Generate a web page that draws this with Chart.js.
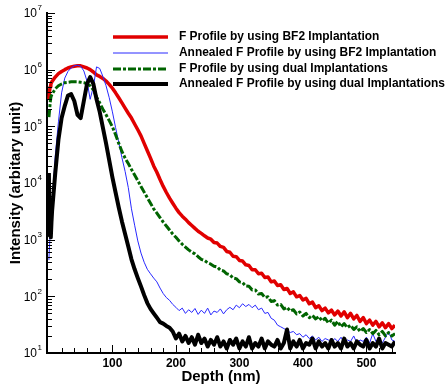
<!DOCTYPE html>
<html>
<head>
<meta charset="utf-8">
<title>F depth profiles</title>
<script src="https://cdn.jsdelivr.net/npm/chart.js@4.4.1/dist/chart.umd.min.js"></script>
<style>
    html, body { margin: 0; padding: 0; background: #fff; }
    canvas { display: block; }
</style>
</head>
<body>
<canvas id="profile-chart" width="447" height="389"></canvas>
<script>
// Depth (nm) shared by every profile
const depth = [
    0, 1, 2, 3, 4,
    5, 10, 15, 20, 25, 30, 35, 40, 45, 50,
    55, 60, 65, 70, 75, 80, 85, 90, 95, 100,
    105, 110, 115, 120, 125, 130, 135, 140, 145, 150,
    155, 160, 165, 170, 175, 180, 185, 190, 195, 200,
    205, 210, 215, 220, 225, 230, 235, 240, 245, 250,
    255, 260, 265, 270, 275, 280, 285, 290, 295, 300,
    305, 310, 315, 320, 325, 330, 335, 340, 345, 350,
    355, 360, 365, 370, 375, 380, 385, 390, 395, 400,
    405, 410, 415, 420, 425, 430, 435, 440, 445, 450,
    455, 460, 465, 470, 475, 480, 485, 490, 495, 500,
    505, 510, 515, 520, 525, 530, 535, 540, 545
];

// F Profile by using BF2 Implantation
const bf2Profile = [
    2.9e5, 4.2e5, 5.0e5, 5.5e5, 5.9e5,
    6.2e5, 7.4e5, 8.5e5, 9.3e5, 1.0e6, 1.07e6, 1.12e6, 1.15e6, 1.17e6, 1.17e6,
    1.12e6, 1.07e6, 1.0e6, 9.1e5, 8.1e5, 7.6e5, 7.0e5, 6.3e5, 5.5e5, 4.7e5,
    3.9e5, 3.2e5, 2.6e5, 2.1e5, 1.7e5, 1.4e5, 1.1e5, 8.7e4, 6.8e4, 5.0e4,
    3.7e4, 2.75e4, 2.0e4, 1.55e4, 1.15e4, 8.7e3, 6.8e3, 5.4e3, 4.4e3, 3.6e3,
    3.0e3, 2.6e3, 2.3e3, 2.0e3, 1.78e3, 1.58e3, 1.41e3, 1.29e3, 1.17e3, 1.07e3,
    1020, 890, 870, 760, 730, 620, 600, 510, 500, 430,
    420, 360, 350, 295, 295, 250, 255, 215, 220, 180,
    186, 155, 160, 132, 138, 112, 120, 98, 103, 86,
    92, 74, 79, 63, 68, 56, 62, 51, 57, 47,
    55, 45, 53, 42, 50, 40, 46, 36, 42, 33,
    38, 31, 36, 29, 34, 28, 33, 27, 31
];

// Annealed F Profile by using BF2 Implantation
const bf2Annealed = [
    440, 800, 1300, 2000, 3000,
    4.2e3, 3.0e4, 1.2e5, 3.9e5, 7.1e5, 9.3e5, 1.07e6, 1.17e6, 1.2e6, 1.15e6,
    9.5e5, 6.3e5, 3.0e5, 5.0e5, 1.12e6, 1.05e6, 7.6e5, 5.2e5, 3.2e5, 1.8e5,
    9.5e4, 5.2e4, 2.8e4, 1.6e4, 8.3e3, 3.5e3, 1.8e3, 950, 580, 400,
    300, 250, 210, 180, 140, 112, 95, 85, 72, 64,
    56, 62, 50, 58, 52, 61, 48, 57, 50, 62,
    47, 55, 52, 60, 49, 58, 64, 58, 70, 63,
    74, 66, 72, 63, 70, 58, 62, 50, 52, 41,
    38, 31, 29, 27, 25, 23, 24, 21, 22, 19,
    21, 18, 20, 17, 19, 16, 18, 17, 15, 18,
    16, 19, 15, 17, 16, 20, 15, 17, 16, 19,
    15, 22, 16, 18, 15, 19, 24, 17, 16
];

// F Profile by using dual Implantations
const dualProfile = [
    1.45e5, 1.9e5, 2.6e5, 3.2e5, 3.5e5,
    3.7e5, 4.6e5, 5.2e5, 5.6e5, 5.9e5, 6.0e5, 6.1e5, 6.1e5, 6.1e5, 6.0e5,
    5.9e5, 5.6e5, 5.2e5, 4.4e5, 3.3e5, 2.6e5, 2.0e5, 1.6e5, 1.26e5, 9.8e4,
    7.1e4, 5.0e4, 3.6e4, 2.75e4, 2.2e4, 1.74e4, 1.38e4, 1.1e4, 8.7e3, 6.9e3,
    5.5e3, 4.4e3, 3.5e3, 2.95e3, 2.45e3, 2.05e3, 1.74e3, 1.48e3, 1.26e3, 1.1e3,
    950, 830, 740, 660, 600, 560, 500, 450, 430, 390,
    370, 340, 330, 290, 280, 250, 240, 210, 205, 180,
    175, 152, 150, 130, 130, 110, 112, 95, 98, 81,
    84, 70, 72, 60, 64, 55, 58, 49, 53, 45,
    50, 42, 46, 40, 44, 37, 41, 34, 38, 31,
    36, 29, 33, 28, 31, 26, 29, 24, 27, 23,
    26, 22, 25, 21, 24, 20, 23, 20, 22
];

// Annealed F Profile by using dual Implantations
const dualAnnealed = [
    1.5e4, 1.2e3, 2.4e3, 1.1e3, 2.0e3,
    3.2e3, 1.5e4, 5.8e4, 1.4e5, 2.3e5, 3.5e5, 3.7e5, 2.8e5, 1.6e5, 1.4e5,
    2.8e5, 5.6e5, 7.4e5, 5.6e5, 3.0e5, 1.8e5, 9.5e4, 5.0e4, 2.5e4, 1.26e4,
    6.8e3, 3.7e3, 2.1e3, 1.26e3, 760, 450, 300, 210, 150, 105,
    76, 60, 50, 42, 35, 33, 30, 28, 24, 18,
    22, 16, 20, 15, 19, 14, 21, 15, 18, 13,
    17, 14, 19, 13, 16, 12, 17, 14, 18, 12,
    16, 13, 19, 12, 15, 13, 18, 12, 16, 14,
    13, 17, 12, 15, 26, 12, 16, 13, 17, 12,
    15, 14, 18, 12, 16, 13, 15, 12, 17, 13,
    15, 12, 18, 13, 15, 12, 16, 14, 13, 17,
    12, 15, 13, 18, 12, 15, 14, 13, 16
];

const seriesLabels = [
    'F Profile by using BF2 Implantation',
    'Annealed F Profile by using BF2 Implantation',
    'F Profile by using dual Implantations',
    'Annealed F Profile by using dual Implantations'
];

// axis ticks
const depthTicks = [20, 40, 60, 80, 100, 120, 140, 160, 180, 200, 220, 240, 260, 280, 300,
    320, 340, 360, 380, 400, 420, 440, 460, 480, 500, 520, 540];
const depthLabels = [100, 200, 300, 400, 500];
const decadeExps = [1, 2, 3, 4, 5, 6, 7];

const FONT = "'Liberation Sans', Arial, Helvetica, sans-serif";

const toPoints = values => depth.map((d, i) => ({ x: d, y: values[i] }));

const superDigits = { 1: '1', 2: '2', 3: '3', 4: '4', 5: '5', 6: '6', 7: '7' };

// Axis ticks (inward), labels, titles and the legend box
const decorPlugin = {
    id: 'decor',
    afterDraw(chart) {
        const { ctx, chartArea: area, scales: { x, y } } = chart;
        ctx.save();
        ctx.strokeStyle = '#000';
        ctx.fillStyle = '#000';
        ctx.lineWidth = 1;

        // x tick marks
        x.ticks.forEach(t => {
            const px = Math.round(x.getPixelForValue(t.value)) + 0.5;
            const len = t.value % 100 === 0 ? 8 : 5;
            ctx.beginPath();
            ctx.moveTo(px, area.bottom);
            ctx.lineTo(px, area.bottom - len);
            ctx.stroke();
        });

        // y tick marks
        y.ticks.forEach(t => {
            const py = Math.round(y.getPixelForValue(t.value)) + 0.5;
            const exp = Math.log10(t.value);
            const len = Math.abs(exp - Math.round(exp)) < 1e-6 ? 8 : 5;
            ctx.beginPath();
            ctx.moveTo(area.left, py);
            ctx.lineTo(area.left + len, py);
            ctx.stroke();
        });

        // x labels
        ctx.font = 'bold 12px ' + FONT;
        ctx.textAlign = 'center';
        ctx.textBaseline = 'middle';
        depthLabels.forEach(v => {
            ctx.fillText(String(v), x.getPixelForValue(v), area.bottom + 11);
        });

        // y labels: 10 with superscript exponent
        decadeExps.forEach(e => {
            const py = y.getPixelForValue(Math.pow(10, e));
            ctx.font = '12px ' + FONT;
            ctx.textAlign = 'right';
            ctx.textBaseline = 'middle';
            ctx.fillText('10', 37, py + 1);
            ctx.font = '8px ' + FONT;
            ctx.textAlign = 'left';
            ctx.fillText(superDigits[e], 37.5, py - 5);
        });

        // axis titles
        ctx.font = 'bold 15px ' + FONT;
        ctx.textAlign = 'center';
        ctx.textBaseline = 'middle';
        ctx.fillText('Depth (nm)', (area.left + area.right) / 2, 377);
        ctx.save();
        ctx.translate(16, (area.top + area.bottom) / 2);
        ctx.rotate(-Math.PI / 2);
        ctx.fillText('Intensity (arbitary unit)', 0, 0);
        ctx.restore();

        // legend
        const rowY = [37, 53, 69, 84];
        ctx.font = 'bold 12px ' + FONT;
        const squeeze = 266 / ctx.measureText(seriesLabels[3]).width;
        chart.data.datasets.forEach((ds, i) => {
            const yy = rowY[i];
            ctx.save();
            ctx.strokeStyle = ds.borderColor;
            ctx.lineWidth = ds.borderWidth;
            ctx.setLineDash(ds.borderDash || []);
            ctx.beginPath();
            ctx.moveTo(113, yy);
            ctx.lineTo(168, yy);
            ctx.stroke();
            ctx.restore();

            ctx.save();
            ctx.translate(179, yy);
            ctx.scale(squeeze, 1);
            ctx.textAlign = 'left';
            ctx.textBaseline = 'middle';
            ctx.fillText(ds.label, 0, 0);
            ctx.restore();
        });
        ctx.restore();
    }
};

const chart = new Chart(document.getElementById('profile-chart'), {
    type: 'line',
    data: {
        datasets: [
            {
                label: seriesLabels[0],
                data: toPoints(bf2Profile),
                borderColor: 'rgb(225, 0, 0)',
                borderWidth: 3.5,
                order: 3
            },
            {
                label: seriesLabels[1],
                data: toPoints(bf2Annealed),
                borderColor: 'rgb(40, 40, 255)',
                borderWidth: 1,
                order: 2
            },
            {
                label: seriesLabels[2],
                data: toPoints(dualProfile),
                borderColor: 'rgb(0, 100, 0)',
                borderWidth: 3,
                borderDash: [8, 2, 3, 2],
                order: 1
            },
            {
                label: seriesLabels[3],
                data: toPoints(dualAnnealed),
                borderColor: '#000',
                borderWidth: 4,
                order: 0
            }
        ]
    },
    options: {
        responsive: false,
        devicePixelRatio: 1,
        animation: false,
        layout: { padding: { left: 0, top: 13, right: 52, bottom: 0 } },
        elements: {
            point: { radius: 0 },
            line: { tension: 0, fill: false, borderJoinStyle: 'round' }
        },
        plugins: {
            legend: { display: false },
            tooltip: { enabled: false }
        },
        scales: {
            x: {
                type: 'linear',
                min: -3,
                max: 545,
                grid: { display: false },
                border: { display: true, color: '#000', width: 2 },
                ticks: { display: false },
                afterBuildTicks: scale => {
                    scale.ticks = depthTicks.map(v => ({ value: v }));
                },
                afterFit: scale => { scale.height = 36; }
            },
            y: {
                type: 'logarithmic',
                min: 10,
                max: 1e7,
                grid: { display: false },
                border: { display: true, color: '#000', width: 2 },
                ticks: { display: false },
                afterBuildTicks: scale => {
                    const ticks = [];
                    decadeExps.forEach(e => {
                        if (e === 7) { ticks.push({ value: 1e7 }); return; }
                        for (let m = 1; m <= 9; m++) ticks.push({ value: m * Math.pow(10, e) });
                    });
                    scale.ticks = ticks;
                },
                afterFit: scale => { scale.width = 47; }
            }
        }
    },
    plugins: [decorPlugin]
});
</script>
</body>
</html>
